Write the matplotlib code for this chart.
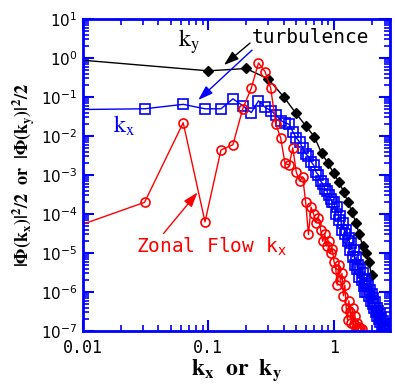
import matplotlib
matplotlib.use('Agg')
import matplotlib.pyplot as plt

# ky spectrum (black diamonds); first entry is where the line meets the left edge
ky = [0.01, 0.1, 0.2, 0.3, 0.4, 0.5, 0.6, 0.7, 0.8, 0.9, 1.0,
      1.1, 1.2, 1.3, 1.4, 1.5, 1.6, 1.7, 1.8, 1.9, 2.0]
phi_ky = [0.88, 0.47, 0.54, 0.29, 0.10, 0.038, 0.018, 0.0096, 0.0036, 0.002, 0.0011,
          6.6e-4, 3.7e-4, 2e-4, 1.1e-4, 6e-5, 3e-5, 1.5e-5, 1e-5, 6e-6, 2.7e-6]

# kx grid (blue squares and red circles share it); first entry = left edge
kx = [0.01,
      0.031, 0.063, 0.094, 0.126, 0.157, 0.188, 0.220, 0.251, 0.283, 0.314,
      0.345, 0.377, 0.408, 0.440, 0.471, 0.502, 0.534, 0.565, 0.597, 0.628,
      0.659, 0.691, 0.722, 0.754, 0.785, 0.816, 0.848, 0.879, 0.911, 0.942,
      0.973, 1.005, 1.036, 1.068, 1.099, 1.130, 1.162, 1.193, 1.225, 1.256,
      1.287, 1.319, 1.350, 1.382, 1.413, 1.444, 1.476, 1.507, 1.539, 1.570,
      1.601, 1.633, 1.664, 1.696, 1.727, 1.758, 1.790, 1.821, 1.853, 1.884,
      1.915, 1.947, 1.978, 2.010, 2.041, 2.072, 2.104, 2.135, 2.167, 2.198,
      2.229, 2.261, 2.292, 2.324, 2.355, 2.386, 2.418, 2.449, 2.481, 2.512,
      2.543, 2.575, 2.606, 2.638]

phi_kx = [0.048,
          0.050, 0.065, 0.050, 0.050, 0.090, 0.060, 0.040, 0.080, 0.055, 0.045,
          0.035, 0.025, 0.022, 0.020, 0.013, 0.009, 0.007, 0.005, 0.0035, 0.003,
          0.0022, 0.0018, 0.0012, 0.0010, 7e-4, 6e-4, 4.5e-4, 4e-4, 3e-4, 2.5e-4,
          2e-4, 2e-4, 1e-4, 1.5e-4, 7e-5, 9e-5, 4e-5, 6e-5, 3e-5, 4e-5,
          2e-5, 2.5e-5, 1.2e-5, 1.8e-5, 8e-6, 1.2e-5, 5e-6, 8e-6, 4e-6, 5e-6,
          2.5e-6, 4e-6, 2e-6, 3e-6, 1.4e-6, 2.2e-6, 1e-6, 1.6e-6, 1e-6, 1.4e-6,
          8e-7, 1.1e-6, 6e-7, 9e-7, 5e-7, 7e-7, 4e-7, 5.5e-7, 3e-7, 4e-7,
          2.5e-7, 3.3e-7, 2e-7, 2.8e-7, 1.7e-7, 2.2e-7, 1.4e-7, 1.8e-7, 1.2e-7, 1.5e-7,
          1.1e-7, 1.3e-7, 1.05e-7, 1.15e-7]

# zonal flow part of the kx spectrum (red circles)
phi_zf = [5.5e-5,
          2e-4, 0.022, 6.3e-5, 4.4e-3, 6e-3, 0.05, 0.17, 0.75, 0.45, 0.17,
          0.02, 0.009, 0.002, 0.0018, 0.005, 0.0012, 0.0007, 0.0009, 0.0002, 3e-5,
          1.5e-4, 1e-4, 6e-5, 8e-5, 4e-5, 2e-5, 3e-5, 1.5e-5, 2e-5, 1e-5,
          1.3e-5, 6e-6, 4e-6, 1.5e-6, 5e-6, 2e-6, 3e-6, 8e-7, 1.5e-6, 4e-7,
          1.9e-7, 6e-7, 3e-7, 1.6e-7, 4e-7, 1.5e-7, 2.5e-7, 1.2e-7, 1.6e-7, 1.1e-7,
          1.3e-7, 1.2e-7, 1.1e-7]
kx_zf = kx[:len(phi_zf)]

BLUE = '#0000ff'
RED = '#ff0000'

fig = plt.figure(figsize=(3.95, 3.89), dpi=100)
ax = fig.add_axes([0.210, 0.149, 0.777, 0.802])

ax.plot(ky, phi_ky, color='black', lw=1, marker='D', ms=5.5, markevery=slice(1, None))
ax.plot(kx, phi_kx, color=BLUE, lw=1, marker='s', ms=7.5, mfc='none', mew=1.2,
        markevery=slice(1, None))
ax.plot(kx_zf, phi_zf, color=RED, lw=1, marker='o', ms=6.5, mfc='none', mew=1.2,
        markevery=slice(1, None))

ax.set_xscale('log')
ax.set_yscale('log')
ax.set_xlim(0.01, 2.8)
ax.set_ylim(1e-7, 1e1)

for sp in ax.spines.values():
    sp.set_color(BLUE)
    sp.set_linewidth(2)
ax.tick_params(which='both', direction='in', top=True, right=True, color=BLUE)
ax.tick_params(which='major', length=8, width=1.5)
ax.tick_params(which='minor', length=4, width=1.2)
ax.tick_params(axis='y', labelsize=11, pad=4)
ax.tick_params(axis='x', pad=6)
ax.set_xticks([0.01, 0.1, 1])
ax.set_xticklabels(['0.01', '0.1', '1'], family='DejaVu Sans Mono', fontsize=12)
ax.yaxis.set_major_locator(matplotlib.ticker.LogLocator(base=10, numticks=20))
ax.yaxis.set_minor_locator(matplotlib.ticker.LogLocator(base=10, subs=range(2, 10), numticks=20))
ax.yaxis.set_minor_formatter(matplotlib.ticker.NullFormatter())

ax.set_xlabel(r'$\mathbf{k_x\ \ or\ \ k_y}$', fontsize=17, math_fontfamily='stix', labelpad=0)
ax.set_ylabel(r'$\mathbf{|\Phi(k_x)|^2/2\ \ or\ \ |\Phi(k_y)|^2/2}$', fontsize=13,
              math_fontfamily='stix', labelpad=3)

# labels and arrows
ax.text(0.057, 1.9, r'$\mathrm{k_y}$', fontsize=17, math_fontfamily='stix', color='black')
ax.text(0.0173, 0.012, r'$\mathrm{k_x}$', fontsize=17, math_fontfamily='stix', color=BLUE)
ax.text(0.223, 2.43, 'turbulence', family='DejaVu Sans Mono', fontsize=14, color='black')
ax.text(0.0264, 1e-5, r'Zonal Flow k$_\mathrm{x}$', family='DejaVu Sans Mono', fontsize=14,
        color=RED, math_fontfamily='dejavusans')

arrow = dict(arrowstyle='-|>,head_length=0.9,head_width=0.3', lw=1, shrinkA=0, shrinkB=0)
ax.annotate('', xy=(0.133, 0.66), xytext=(0.215, 2.43),
            arrowprops=dict(arrow, color='black'))
ax.annotate('', xy=(0.083, 0.084), xytext=(0.223, 1.6),
            arrowprops=dict(arrow, color=BLUE))
ax.annotate('', xy=(0.082, 3.6e-4), xytext=(0.044, 3.2e-5),
            arrowprops=dict(arrow, color=RED))

fig.savefig('out.png', dpi=100)
